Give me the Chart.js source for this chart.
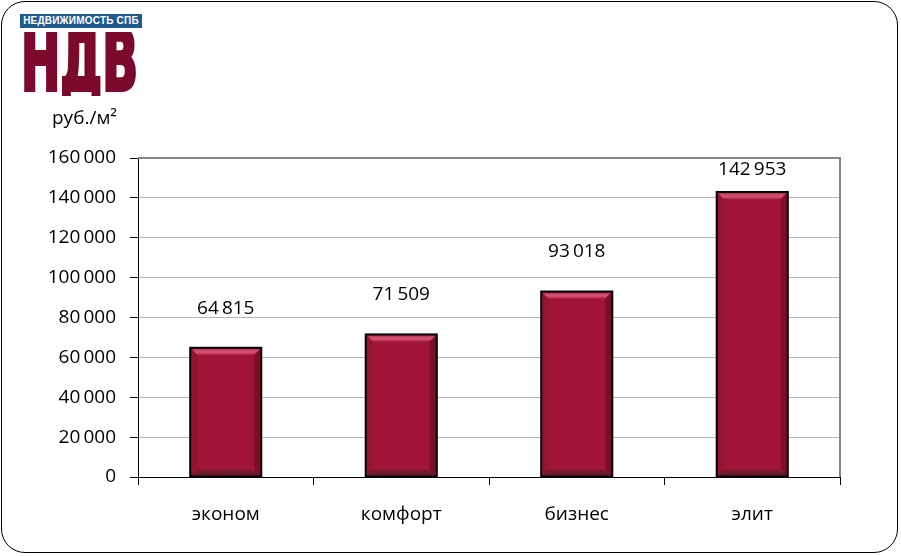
<!DOCTYPE html>
<html>
<head>
<meta charset="utf-8">
<script src="https://cdn.jsdelivr.net/npm/chart.js@4"></script>
<style>
  body { margin: 0; background: #fff; }
  #wrap { position: relative; width: 901px; height: 556px; overflow: hidden; }
  #frame {
    position: absolute; left: 1px; top: 1px; width: 897px; height: 552px;
    border: 1px solid #000; border-radius: 24px; box-sizing: border-box; pointer-events: none;
  }
  #brand {
    position: absolute; left: 20px; top: 14px; width: 122px; height: 14px;
    background: #1f5b8e; color: #fff; font: bold 10px "Liberation Sans", Arial, sans-serif;
    line-height: 14px; text-align: center; letter-spacing: 0.2px;
  }
  #markbox { position: absolute; left: 20px; top: 32px; width: 124px; height: 64px; overflow: hidden; }
  #mark {
    position: absolute; left: 1px; top: -13px;
    color: #7b0a2c; font: bold 84px "DejaVu Sans", sans-serif; line-height: 84px;
    -webkit-text-stroke: 4px #7b0a2c;
    transform: scaleX(0.56); transform-origin: 0 0; white-space: nowrap;
  }
  #unit {
    position: absolute; left: 52px; top: 104px;
    font: 19px "Open Sans", sans-serif; color: #000;
  }
</style>
</head>
<body>
<div id="wrap">
  <canvas id="chart" width="901" height="556"></canvas>
  <div id="brand">НЕДВИЖИМОСТЬ СПБ</div>
  <div id="markbox"><div id="mark">НДВ</div></div>
  <div id="unit">руб./м²</div>
  <div id="frame"></div>
</div>
<script>
const categories = ["эконом", "комфорт", "бизнес", "элит"];
const prices = [64815, 71509, 93018, 142953];
const yTicks = [0, 20000, 40000, 60000, 80000, 100000, 120000, 140000, 160000];

const FONT = "'Open Sans', sans-serif";

function fmt(n) {
  return String(n).replace(/\B(?=(\d{3})+(?!\d))/g, "\u2009");
}

// Bevel on each bar, drawn over the plain fill
const bevelPlugin = {
  id: "bevel",
  afterDatasetsDraw(chart) {
    const ctx = chart.ctx;
    const meta = chart.getDatasetMeta(0);
    meta.data.forEach((bar) => {
      const l = bar.x - bar.width / 2 + 1, r = bar.x + bar.width / 2 - 1;
      const t = bar.y + 1, b = bar.base - 1;
      const s = 6;
      ctx.save();
      const poly = (pts, color) => {
        ctx.beginPath();
        ctx.moveTo(pts[0][0], pts[0][1]);
        pts.slice(1).forEach((p) => ctx.lineTo(p[0], p[1]));
        ctx.closePath();
        ctx.fillStyle = color;
        ctx.fill();
      };
      const top = ctx.createLinearGradient(0, t, 0, t + s);
      top.addColorStop(0, "#b8304f");
      top.addColorStop(0.5, "#d65676");
      top.addColorStop(1, "#b52a4b");
      poly([[l, t], [r, t], [r - s, t + s], [l + s, t + s]], top);
      const bot = ctx.createLinearGradient(0, b - s, 0, b);
      bot.addColorStop(0, "#85182f");
      bot.addColorStop(1, "#5c1a29");
      poly([[l, b], [r, b], [r - s, b - s], [l + s, b - s]], bot);
      poly([[l, t], [l + s, t + s], [l + s, b - s], [l, b]], "#94142f");
      poly([[r, t], [r - s, t + s], [r - s, b - s], [r, b]], "#7a0f28");
      ctx.strokeStyle = "#000";
      ctx.lineWidth = 2;
      ctx.strokeRect(l - 1, t - 1, r - l + 2, b - t + 2);
      ctx.restore();
    });
  }
};

// Value labels above bars, kept inside the plot area
const labelPlugin = {
  id: "valueLabels",
  afterDatasetsDraw(chart) {
    const ctx = chart.ctx;
    const meta = chart.getDatasetMeta(0);
    ctx.save();
    ctx.font = "19px " + FONT;
    ctx.fillStyle = "#000";
    ctx.textAlign = "center";
    ctx.textBaseline = "bottom";
    meta.data.forEach((bar, i) => {
      const y = Math.max(bar.y - 30, chart.chartArea.top + 21);
      ctx.fillText(fmt(prices[i]), bar.x, y);
    });
    ctx.restore();
  }
};

// Grey top and right edge of the plot area
const edgePlugin = {
  id: "edges",
  beforeDatasetsDraw(chart) {
    const { ctx, chartArea: a } = chart;
    ctx.save();
    ctx.strokeStyle = "#858585";
    ctx.lineWidth = 2;
    ctx.beginPath();
    ctx.moveTo(a.left, a.top);
    ctx.lineTo(a.right, a.top);
    ctx.lineTo(a.right, a.bottom);
    ctx.stroke();
    ctx.restore();
  }
};

new Chart(document.getElementById("chart"), {
  type: "bar",
  data: {
    labels: categories,
    datasets: [{
      data: prices,
      backgroundColor: "#a01537",
      borderWidth: 0,
      categoryPercentage: 1,
      barPercentage: 0.405
    }]
  },
  options: {
    responsive: false,
    animation: false,
    layout: { padding: { left: 0, right: 61, top: 158, bottom: 0 } },
    plugins: { legend: { display: false }, tooltip: { enabled: false } },
    scales: {
      x: {
        afterFit: (s) => { s.height = 79; },
        grid: { drawOnChartArea: false, drawTicks: true, tickLength: 8, color: "#000", offset: true },
        border: { color: "#000", width: 1 },
        ticks: { color: "#000", font: { family: FONT, size: 19 }, padding: 18 }
      },
      y: {
        min: 0,
        max: 160000,
        afterFit: (s) => { s.width = 138; },
        afterBuildTicks: (s) => { s.ticks = yTicks.map((v) => ({ value: v })); },
        grid: { color: "#b5b5b5", tickColor: "#000", tickLength: 8 },
        border: { color: "#000", width: 1 },
        ticks: { color: "#000", font: { family: FONT, size: 19 }, padding: 14, callback: (v) => fmt(v) }
      }
    }
  },
  plugins: [edgePlugin, bevelPlugin, labelPlugin]
});
</script>
</body>
</html>
